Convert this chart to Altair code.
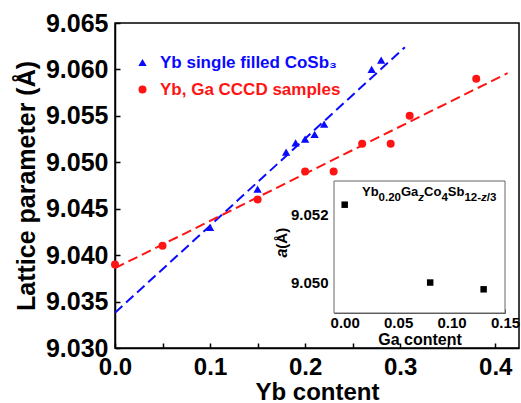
import altair as alt
import pandas as pd

FONT = "Liberation Sans"
BLUE = "#0a0aff"
RED = "#ff1414"

# ---------------- data ----------------
blue_label = "Yb single filled CoSb\u2083"
red_label = "Yb, Ga CCCD samples"

blue_x = [0.10, 0.15, 0.18, 0.19, 0.20, 0.21, 0.22, 0.27, 0.28]
blue_y = [9.0430, 9.0471, 9.0511, 9.0521, 9.0525, 9.0530, 9.0541, 9.0600, 9.0610]
red_x = [0.00, 0.05, 0.15, 0.20, 0.23, 0.26, 0.29, 0.31, 0.38]
red_y = [9.0390, 9.0410, 9.0460, 9.0490, 9.0490, 9.0520, 9.0520, 9.0550, 9.0590]

blue_fit_x = [0.0, 0.305]
blue_fit_y = [9.0338, 9.0624]
red_fit_x = [0.0, 0.413]
red_fit_y = [9.0386, 9.0596]

inset_x = [0.00, 0.08, 0.13]
inset_y = [9.0523, 9.0500, 9.0498]

main_x_ticks = [0.0, 0.05, 0.10, 0.15, 0.20, 0.25, 0.30, 0.35, 0.40]
main_y_ticks = [9.030, 9.0325, 9.035, 9.0375, 9.040, 9.0425, 9.045, 9.0475,
                9.050, 9.0525, 9.055, 9.0575, 9.060, 9.0625, 9.065]
inset_x_ticks = [0.0, 0.025, 0.05, 0.075, 0.10, 0.125, 0.15]
inset_y_ticks = [9.050, 9.051, 9.052]

X_DOMAIN = [0.0, 0.425]
Y_DOMAIN = [9.030, 9.065]
IX_DOMAIN = [-0.01, 0.15]
IY_DOMAIN = [9.0491, 9.0530]

# ---------------- main plot ----------------
xs = alt.Scale(domain=X_DOMAIN, nice=False, zero=False)
ys = alt.Scale(domain=Y_DOMAIN, nice=False, zero=False)

df_blue = pd.DataFrame({"yb": blue_x, "lat": blue_y, "s1": blue_label})
df_red = pd.DataFrame({"yb": red_x, "lat": red_y, "s2": red_label})
df_bfit = pd.DataFrame({"yb": blue_fit_x, "lat": blue_fit_y})
df_rfit = pd.DataFrame({"yb": red_fit_x, "lat": red_fit_y})

main_x_axis = alt.Axis(
    orient="bottom", values=main_x_ticks, labelFlush=False,
    labelExpr="round(datum.value*100) % 10 === 0 ? format(datum.value, '.1f') : ''",
    tickSize={"expr": "-5"}, labelPadding=12, labelFontSize=24,
    title="Yb content", titleFontSize=24, titlePadding=1,
)
main_y_axis = alt.Axis(
    orient="left", values=main_y_ticks, labelFlush=False,
    labelExpr="round(datum.value*10000) % 50 === 0 ? format(datum.value, '.3f') : ''",
    tickSize={"expr": "-5"}, labelPadding=12, labelFontSize=25,
    title="Lattice parameter (\u00c5)", titleFontSize=25, titlePadding=6,
)

blue_line = alt.Chart(df_bfit).mark_line(
    color=BLUE, strokeWidth=2, strokeDash=[10, 5]
).encode(
    x=alt.X("yb:Q", scale=xs, axis=main_x_axis),
    y=alt.Y("lat:Q", scale=ys, axis=main_y_axis),
)
red_line = alt.Chart(df_rfit).mark_line(
    color=RED, strokeWidth=2, strokeDash=[10, 5]
).encode(
    x=alt.X("yb:Q", scale=xs),
    y=alt.Y("lat:Q", scale=ys),
)

blue_pts = alt.Chart(df_blue).mark_point(
    filled=True, size=70, opacity=1, color=BLUE
).encode(
    x=alt.X("yb:Q", scale=xs),
    y=alt.Y("lat:Q", scale=ys),
    shape=alt.Shape(
        "s1:N",
        scale=alt.Scale(domain=[blue_label], range=["triangle-up"]),
        legend=alt.Legend(
            orient="none", legendX=19, legendY=31, title=None, padding=0,
            labelColor=BLUE, labelFontSize=17, labelFontWeight="bold",
            labelFont=FONT, labelOffset=9, labelLimit=400, symbolSize=70,
            symbolFillColor=BLUE, symbolStrokeColor=BLUE,
        ),
    ),
)
red_pts = alt.Chart(df_red).mark_point(
    filled=True, size=64, opacity=1, shape="circle"
).encode(
    x=alt.X("yb:Q", scale=xs),
    y=alt.Y("lat:Q", scale=ys),
    color=alt.Color(
        "s2:N",
        scale=alt.Scale(domain=[red_label], range=[RED]),
        legend=alt.Legend(
            orient="none", legendX=19, legendY=58, title=None, padding=0,
            labelColor=RED, labelFontSize=17, labelFontWeight="bold",
            labelFont=FONT, labelOffset=9, labelLimit=400, symbolSize=64,
            symbolType="circle",
        ),
    ),
)

main = alt.layer(blue_line, red_line, blue_pts, red_pts)

# ---------------- inset ----------------
ixs = alt.Scale(domain=IX_DOMAIN, range=[219, 390], nice=False, zero=False)
iys = alt.Scale(domain=IY_DOMAIN, range=[290, 158], nice=False, zero=False)

df_inset = pd.DataFrame({"ga": inset_x, "a": inset_y})
df_frame = pd.DataFrame({"ga": [IX_DOMAIN[0]], "ga2": [IX_DOMAIN[1]],
                         "a": [IY_DOMAIN[0]], "a2": [IY_DOMAIN[1]]})
df_anchor_top = pd.DataFrame({"ga": [IX_DOMAIN[0]], "a": [IY_DOMAIN[1]]})
df_anchor_ytitle = pd.DataFrame({"ga": [IX_DOMAIN[0]], "a": [9.051]})

inset_x_axis = alt.Axis(
    orient="bottom", offset=-35, values=inset_x_ticks, labelFlush=False,
    labelExpr="round(datum.value*1000) % 50 === 0 ? format(datum.value, '.2f') : ''",
    tickSize={"expr": "-4"}, labelPadding=6, labelFontSize=15,
    title="Ga content", titleFontSize=16, titlePadding=1,
    domainColor="#555555", domainWidth=1, tickColor="#555555", tickWidth=1,
)
inset_y_axis = alt.Axis(
    orient="left", offset=-219, values=inset_y_ticks, labelFlush=False,
    labelExpr="round(datum.value*1000) % 2 === 0 ? format(datum.value, '.3f') : ''",
    tickSize={"expr": "-4"}, labelPadding=10, labelFontSize=15, title=None,
    domainColor="#555555", domainWidth=1, tickColor="#555555", tickWidth=1,
)

frame = alt.Chart(df_frame).mark_rect(
    fill="white", stroke="#666666", strokeWidth=1
).encode(
    x=alt.X("ga:Q", scale=ixs, axis=inset_x_axis),
    y=alt.Y("a:Q", scale=iys, axis=inset_y_axis),
    x2="ga2:Q",
    y2="a2:Q",
)
inset_pts = alt.Chart(df_inset).mark_point(
    filled=True, shape="square", size=42, color="black", opacity=1
).encode(
    x=alt.X("ga:Q", scale=ixs),
    y=alt.Y("a:Q", scale=iys),
)

# composite inset title  Yb0.20GazCo4Sb12-z/3
segments = [
    ("Yb", False, False), ("0.20", True, False), ("Ga", False, False),
    ("z", True, True), ("Co", False, False), ("4", True, False),
    ("Sb", False, False), ("12-", True, False), ("z", True, True),
    ("/3", True, False),
]
CW = {'Y': 667, 'b': 611, 'G': 778, 'a': 556, 'C': 722, 'o': 611, 'S': 667,
      'z': 500, '-': 333, '/': 278, '.': 278}
MAIN_FS, SUB_FS = 13, 11.5
title_layers = []
cursor = 28.0
for txt, sub, ital in segments:
    fs = SUB_FS if sub else MAIN_FS
    w = sum(CW.get(c, 556) for c in txt) * fs / 1000.0
    title_layers.append(
        alt.Chart(df_anchor_top).mark_text(
            text=txt, align="left", baseline="alphabetic", dx=cursor,
            dy=20 if sub else 15, fontSize=fs, fontWeight="bold",
            fontStyle="italic" if ital else "normal", font=FONT, color="black",
        ).encode(x=alt.X("ga:Q", scale=ixs), y=alt.Y("a:Q", scale=iys))
    )
    cursor += w

ytitle_a = alt.Chart(df_anchor_ytitle).mark_text(
    text="a", angle=270, align="right", baseline="middle", dy=-52,
    fontSize=16, fontWeight="bold", fontStyle="italic", font=FONT, color="black",
).encode(x=alt.X("ga:Q", scale=ixs), y=alt.Y("a:Q", scale=iys))
ytitle_b = alt.Chart(df_anchor_ytitle).mark_text(
    text="\u00a0(\u00c5)", angle=270, align="left", baseline="middle", dy=-52,
    fontSize=15, fontWeight="bold", font=FONT, color="black",
).encode(x=alt.X("ga:Q", scale=ixs), y=alt.Y("a:Q", scale=iys))

inset = alt.layer(frame, inset_pts, ytitle_a, ytitle_b, *title_layers)

chart = alt.layer(main, inset).resolve_scale(
    x="independent", y="independent"
).properties(
    width=404, height=325,
    autosize=alt.AutoSizeParams(type="none"),
    padding={"left": 115, "top": 23, "right": 2, "bottom": 55},
).configure_view(
    stroke="black", strokeWidth=1.5
).configure_axis(
    grid=False, labelFont=FONT, labelFontWeight="bold", labelColor="black",
    titleFont=FONT, titleFontWeight="bold", titleColor="black",
    tickColor="black", tickWidth=1.5, domainColor="black", domainWidth=1.5,
)

chart.save("out.html", embed_options={"renderer": "svg", "actions": False})
